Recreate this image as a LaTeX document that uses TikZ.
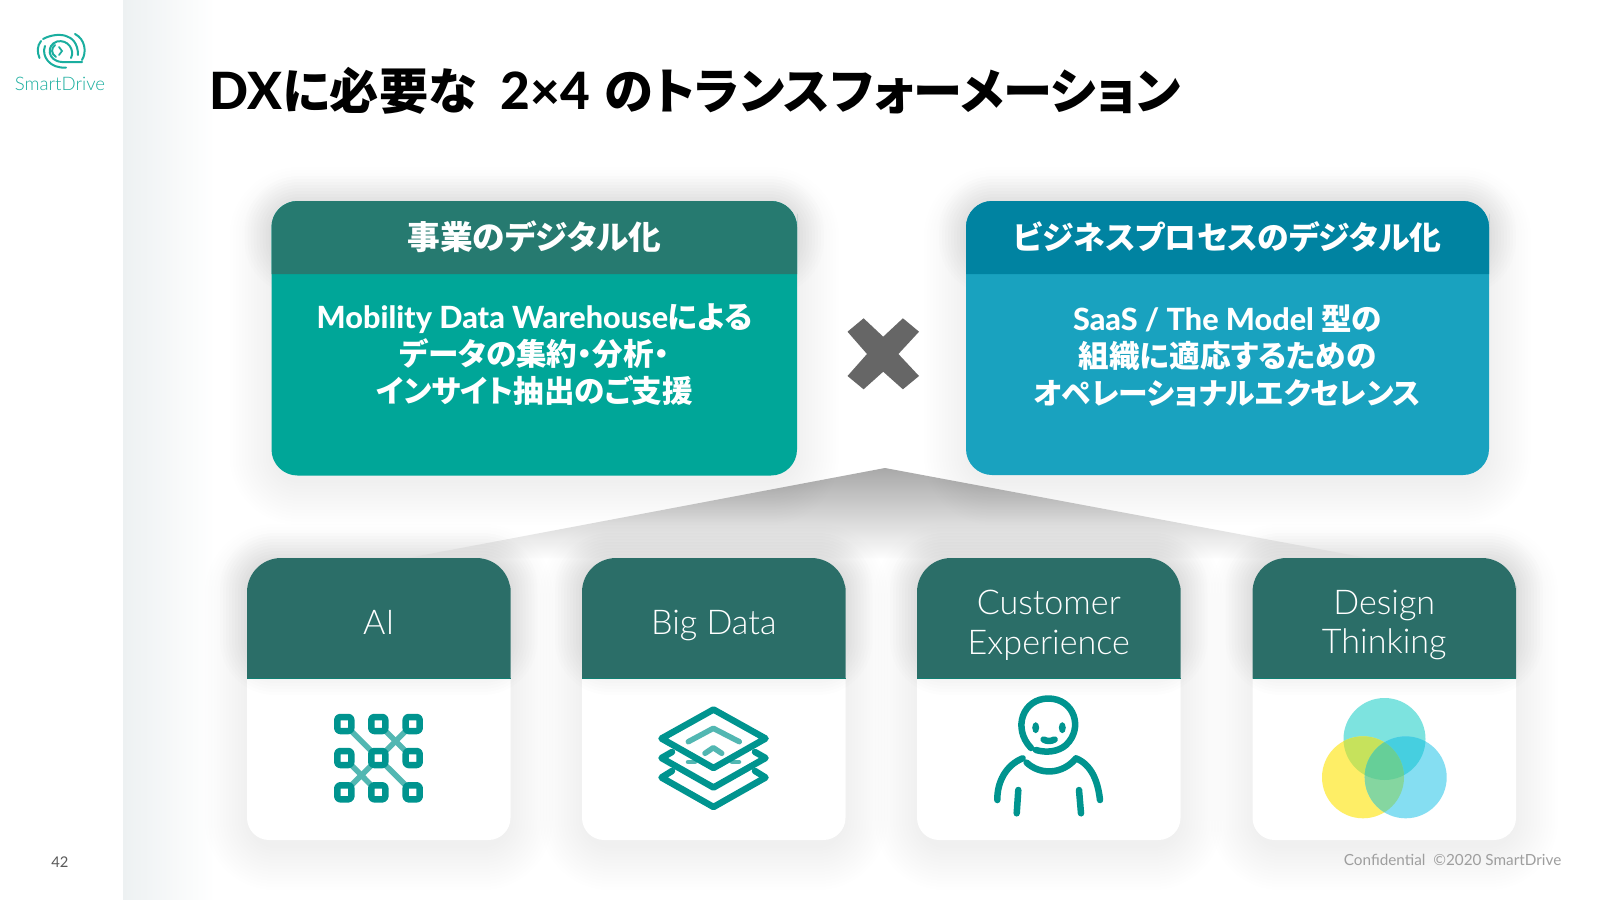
\documentclass[tikz,border=0pt]{standalone}
\usepackage{fontspec}
\setmainfont{Lato}[BoldFont={Lato Heavy}]
\newfontfamily\jp[RawFeature=+palt]{Noto Sans CJK JP}
\newfontfamily\latolight{Lato Light}
\def\pxw{0.2845pt}

\definecolor{brandteal}{HTML}{1AAE9F}
\definecolor{iconteal}{HTML}{00948F}
\definecolor{iconsoft}{HTML}{52B7B2}
\definecolor{cardgreen}{HTML}{2B6E68}
\definecolor{cardedge}{HTML}{0F7F72}
\definecolor{headgreen}{HTML}{267A70}
\definecolor{bodygreen}{HTML}{00A698}
\definecolor{headblue}{HTML}{0083A1}
\definecolor{bodyblue}{HTML}{19A2BF}
\definecolor{panegrey}{HTML}{EDF1F2}
\definecolor{venntop}{HTML}{7DE3DF}
\definecolor{vennyel}{HTML}{FEEE66}
\definecolor{vennblu}{HTML}{85DEF2}
\definecolor{venntopyel}{HTML}{C6E25C}
\definecolor{venntopblu}{HTML}{46CFE0}
\definecolor{vennyelblu}{HTML}{85D6A0}
\definecolor{vennall}{HTML}{66CF98}

\tikzset{
	softlayer/.style={fill=black, opacity=.0045},
	headlayer/.style={fill=black, opacity=.008},
	iconline/.style={draw=iconteal, line width=6.5*\pxw, line cap=round, line join=round},
	iconthin/.style={draw=iconsoft, line width=5.5*\pxw, line cap=round, line join=round},
	logoline/.style={draw=brandteal, line width=2*\pxw, line cap=round},
	headtext/.style={text=white, inner sep=0pt, font=\fontsize{9.3pt}{11pt}\selectfont\jp\bfseries},
	bodytext/.style={text=white, inner sep=0pt, align=center, font=\fontsize{8.7pt}{10.5pt}\selectfont\bfseries},
	cardtext/.style={text=white, inner sep=0pt, align=center, font=\fontsize{9.7pt}{11.3pt}\selectfont\latolight},
}

\begin{document}
\begin{tikzpicture}[x=0.01cm, y=-0.01cm]
	\useasboundingbox (0,0) rectangle (1600,900);
	
	%%% Fondo
	\fill[white] (0,0) rectangle (1600,900);
	\shade[left color=panegrey, right color=white] (123,0) rectangle (215,900);
	
	%%% Logo
	\draw[logoline] (39.5,58) .. controls (37,52) and (37,46) .. (41,41);
	\draw[logoline] (43,39) .. controls (56,32) and (78,32) .. (78,55);
	\draw[logoline] (75,34) .. controls (85,39) and (87,52) .. (82,60);
	\draw[logoline] (45,46) .. controls (41,56) and (50,69) .. (66,67.5);
	\draw[logoline] (82,62) -- (62,62) .. controls (47,61) and (46,45) .. (57,41.5) .. controls (68,39) and (75,50) .. (71,58);
	\draw[logoline] (55,45) .. controls (51,48) and (51,54) .. (56,57);
	\draw[logoline, line width=1.7*\pxw] (59,47) -- (62,51) -- (59,55);
	\node (logotext) [text=brandteal, inner sep=0pt, font=\fontsize{5.3pt}{6pt}\selectfont\latolight] at (60,84) {SmartDrive};
	
	%%% Titolo
	\node (title) [anchor=base west, inner sep=0pt, font=\fontsize{14.6pt}{16pt}\selectfont\bfseries] at (209,110)
		{DX{\jp\fontsize{14pt}{16pt}\selectfont に必要な}\hspace{3.4pt} 2×4\hspace{.8pt} {\jp\fontsize{14pt}{16pt}\selectfont のトランスフォーメーション}};
	
	%%% Ombra centrale
	\shade[top color=black!34, middle color=black!7, bottom color=black!1] (885,468) -- (408,558) -- (1367,558) -- cycle;
	
	%%% Riquadri in alto
	\foreach \g in {0,3,...,42}{
		\fill[softlayer, rounded corners={(8+\g*.28)*1pt}] (271.5-\g,209-\g) rectangle (797+\g,483+\g);
		\fill[softlayer, rounded corners={(8+\g*.28)*1pt}] (966-\g,209-\g) rectangle (1489+\g,483+\g);
	}
	\foreach \g in {0,3,...,27}{
		\fill[headlayer, rounded corners={(8+\g*.28)*1pt}] (271.5-\g,203-\g) rectangle (797+\g,268+\g);
		\fill[headlayer, rounded corners={(8+\g*.28)*1pt}] (966-\g,203-\g) rectangle (1489+\g,268+\g);
	}
	\fill[bodygreen, rounded corners=7.4pt] (271.5,201) rectangle (797,475.5);
	\fill[headgreen] (271.5,274) -- (271.5,240) [rounded corners=7.4pt] -- (271.5,201) -- (797,201) -- (797,240) [sharp corners] -- (797,274) -- cycle;
	\fill[bodyblue, rounded corners=7.4pt] (966,201) rectangle (1489,475);
	\fill[headblue] (966,274) -- (966,240) [rounded corners=7.4pt] -- (966,201) -- (1489,201) -- (1489,240) [sharp corners] -- (1489,274) -- cycle;
	
	\node (bizhead) [headtext] at (534.5,237) {事業のデジタル化};
	\node (prochead) [headtext] at (1227.5,237) {\fontsize{9.05pt}{11pt}\selectfont ビジネスプロセスのデジタル化};
	\node (bizbody) [bodytext] at (534.5,354.5) {Mobility Data Warehouse{\jp による}\\{\jp データの集約・分析・}\\{\jp インサイト抽出のご支援}};
	\node (procbody) [bodytext] at (1227.5,355.5) {SaaS / The Model {\jp 型の}\\{\jp 組織に適応するための}\\{\jp\fontsize{8.45pt}{10.5pt}\selectfont オペレーショナルエクセレンス}};
	
	%%% Per
	\fill[black!60] (847.5,331.7) -- (863.6,318.3) -- (883.2,336.7) -- (902.9,318.3) -- (919,331.7) -- (898.4,354) -- (919,376) -- (902.9,389.3) -- (883.2,371.7) -- (863.6,389.3) -- (847.5,376) -- (867,354) -- cycle;
	
	%%% Schede
	\foreach \cx/\nm/\ly/\lab in {247/ai/622/AI, 582/bigdata/625/Big Data, 917/custexp/625/{Customer\\Experience}, 1252.5/design/625/{Design\\Thinking}}{
		\foreach \g in {0,3,...,42}
			\fill[softlayer, rounded corners={(8+\g*.28)*1pt}] (\cx-\g,566-\g) rectangle (\cx+263.5+\g,848+\g);
		\fill[white] (\cx,678.5) -- (\cx,620) [rounded corners=9.7pt] -- (\cx,558) -- (\cx+263.5,558) -- (\cx+263.5,620) [rounded corners=6.3pt] -- (\cx+263.5,840) -- (\cx,840) -- cycle;
		\foreach \g in {0,3,...,27}
			\fill[headlayer, rounded corners={(8+\g*.28)*1pt}] (\cx-\g,560-\g) rectangle (\cx+263.5+\g,668+\g);
		\fill[cardgreen] (\cx,678.5) -- (\cx,620) [rounded corners=9.7pt] -- (\cx,558) -- (\cx+263.5,558) -- (\cx+263.5,620) [sharp corners] -- (\cx+263.5,678.5) -- cycle;
		\draw[cardedge, line width=.25pt] (\cx,678.5) -- (\cx+263.5,678.5);
		\node (\nm lab) [cardtext] at (\cx+131.75,\ly) {\lab};
	}
	
	%%% Icona AI
	\draw[iconthin] (344.3,724) -- (412.7,792.3);
	\draw[iconthin] (412.7,724) -- (344.3,792.3);
	\draw[iconthin] (378.3,724) -- (412.7,758);
	\draw[iconthin] (344.3,758) -- (378.3,792.3);
	\foreach \gx in {344.3,378.3,412.7}
		\foreach \gy in {724,758,792.3}
			\draw[iconline, fill=white, rounded corners=.8pt] (\gx-7,\gy-7) rectangle (\gx+7,\gy+7);
	
	%%% Icona Big Data
	\draw[iconthin, line width=4.5*\pxw] (688,762) -- (695,762);
	\draw[iconthin, line width=4.5*\pxw] (732,762) -- (739,762);
	\draw[iconline] (672,771) -- (661.5,777.5) -- (713.5,807) -- (765.5,777.5) -- (755,771);
	\draw[iconline] (672,752) -- (661.5,758) -- (713.5,787.5) -- (765.5,758) -- (755,752);
	\draw[iconline, fill=white] (713.5,709.5) -- (765.5,738.5) -- (713.5,768) -- (661.5,738.5) -- cycle;
	\draw[iconthin] (688.3,741.7) -- (713.3,728.3) -- (739.3,741.7);
	\draw[iconthin] (705,753.3) -- (713.3,747.7) -- (721.7,753.3);
	
	%%% Icona Customer Experience
	\draw[iconline] (1031,748) .. controls (1012,728) and (1023,698.5) .. (1048.3,698.5) .. controls (1074,698.5) and (1084,728) .. (1066,745) .. controls (1058,752) and (1046,753) .. (1036,750);
	\fill[iconteal] (1035.7,727.7) circle [x radius=3.5, y radius=5.5];
	\fill[iconteal] (1062.3,727.7) circle [x radius=3.5, y radius=5.5];
	\draw[iconline] (1043.5,739.5) .. controls (1047,741.5) and (1051,741.5) .. (1054.5,739.5);
	\draw[iconline] (1026.7,762.7) .. controls (1040,775) and (1062,775) .. (1076,758.3) .. controls (1092,765) and (1098,782) .. (1100,800);
	\draw[iconline] (1022.7,758.3) .. controls (1006,765) and (997,782) .. (997.3,800);
	\draw[iconline] (1018.3,790) -- (1016.7,813.3);
	\draw[iconline] (1079,790) -- (1081,813.3);
	
	%%% Icona Design Thinking
	\fill[venntop] (1384.5,739) circle (41);
	\fill[vennyel] (1363,777.3) circle (41);
	\fill[vennblu] (1405.7,777.3) circle (41);
	\begin{scope}
		\clip (1384.5,739) circle (41);
		\fill[venntopyel] (1363,777.3) circle (41);
		\fill[venntopblu] (1405.7,777.3) circle (41);
	\end{scope}
	\begin{scope}
		\clip (1363,777.3) circle (41);
		\fill[vennyelblu] (1405.7,777.3) circle (41);
		\clip (1405.7,777.3) circle (41);
		\fill[vennall] (1384.5,739) circle (41);
	\end{scope}
	
	%%% Piede di pagina
	\node (pagenum) [text=black!65, inner sep=0pt, font=\fontsize{4.2pt}{5pt}\selectfont] at (60,862) {42};
	\node (footer) [anchor=east, text=black!38, inner sep=0pt, font=\fontsize{4.35pt}{5pt}\selectfont] at (1562,860) {Confidential \ ©2020 SmartDrive};
\end{tikzpicture}
\end{document}
